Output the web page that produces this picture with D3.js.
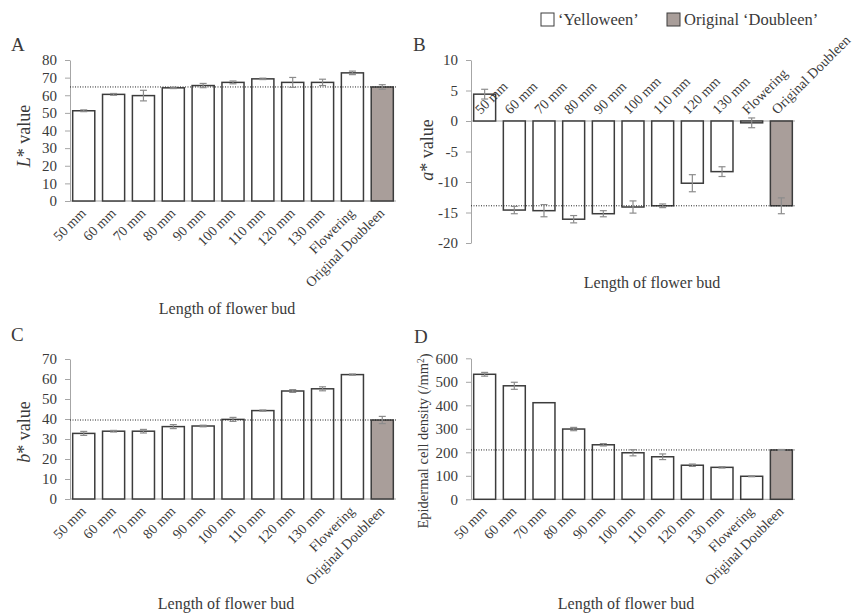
<!DOCTYPE html>
<html>
<head>
<meta charset="utf-8">
<script src="https://cdn.jsdelivr.net/npm/d3@7"></script>
<style>
  body { margin: 0; background: #fff; }
  svg, svg text { font-family: "Liberation Serif", "Times New Roman", serif; fill: #3a3a3a; }
</style>
</head>
<body>
<svg id="chart" width="859" height="614"></svg>
<script>
// categories on the x axis (same for all four panels)
const categories = ['50 mm', '60 mm', '70 mm', '80 mm', '90 mm', '100 mm', '110 mm', '120 mm', '130 mm', 'Flowering', 'Original Doubleen']

// A: L* value
const lValues = [51.2, 60.5, 59.8, 64.2, 65.5, 67.3, 69.3, 67.3, 67.3, 72.7, 64.7]
const lErrors = [0.5, 0.5, 3.0, 0.4, 1.2, 0.8, 0.4, 2.8, 1.8, 1.0, 1.3]
const lTicks = [0, 10, 20, 30, 40, 50, 60, 70, 80]

// B: a* value
const aValues = [4.4, -14.6, -14.7, -16.1, -15.2, -14.1, -13.9, -10.2, -8.3, -0.3, -13.9]
const aErrors = [0.8, 0.6, 1.0, 0.6, 0.5, 1.0, 0.3, 1.4, 0.8, 0.8, 1.3]
const aTicks = [-20, -15, -10, -5, 0, 5, 10]

// C: b* value
const bValues = [32.8, 33.9, 33.9, 36.2, 36.5, 39.8, 44.2, 54.0, 55.1, 62.2, 39.5]
const bErrors = [1.0, 0.4, 0.9, 1.0, 0.4, 1.0, 0.3, 0.7, 1.0, 0.3, 1.8]
const bTicks = [0, 10, 20, 30, 40, 50, 60, 70]

// D: epidermal cell density
const densityValues = [532, 483, 411, 299, 232, 198, 181, 145, 136, 98, 210]
const densityErrors = [8, 15, 0, 7, 5, 13, 12, 5, 3, 2, 2]
const densityTicks = [0, 100, 200, 300, 400, 500, 600]

const svg = d3.select('#chart')
const textColor = '#3a3a3a'
const axisColor = '#a6a6a6'
const barStroke = '#3c3c3c'
const greyFill = '#a99e9a'
const errColor = '#8c8c8c'

function drawPanel(cfg) {
  const g = svg.append('g')

  const x = d3.scaleBand()
    .domain(categories)
    .range(cfg.xRange)
    .paddingInner(0.26)
    .paddingOuter(0.09)

  const y = d3.scaleLinear()
    .domain(cfg.domain)
    .range(cfg.yRange)

  // y axis
  const yAxis = g.append('g')
    .attr('transform', `translate(${cfg.xRange[0]},0)`)
    .call(d3.axisLeft(y)
      .tickValues(cfg.ticks)
      .tickFormat(d => String(d))
      .tickSize(5)
      .tickSizeOuter(0)
      .tickPadding(8))
  yAxis.attr('font-family', null).attr('font-size', null)
  yAxis.select('.domain').attr('stroke', axisColor)
  yAxis.selectAll('.tick line').attr('stroke', axisColor)
  yAxis.selectAll('.tick text')
    .style('font-size', '15px')
    .attr('fill', textColor)

  // x axis line at zero
  g.append('line')
    .attr('x1', cfg.xRange[0])
    .attr('x2', cfg.xRange[1])
    .attr('y1', y(0))
    .attr('y2', y(0))
    .attr('stroke', axisColor)
    .attr('stroke-width', 1)

  // bars
  g.selectAll('.bar')
    .data(cfg.values)
    .enter()
    .append('rect')
    .attr('class', 'bar')
    .attr('x', (d, i) => x(categories[i]))
    .attr('width', x.bandwidth())
    .attr('y', d => Math.min(y(d), y(0)))
    .attr('height', d => Math.abs(y(d) - y(0)))
    .attr('fill', (d, i) => i === categories.length - 1 ? greyFill : '#fff')
    .attr('stroke', barStroke)
    .attr('stroke-width', 1.5)

  // reference dotted line at the Original Doubleen value
  const ref = cfg.values[cfg.values.length - 1]
  g.append('line')
    .attr('x1', cfg.xRange[0])
    .attr('x2', cfg.xRange[1])
    .attr('y1', y(ref))
    .attr('y2', y(ref))
    .attr('stroke', '#222')
    .attr('stroke-width', 1)
    .attr('stroke-dasharray', '1,1.5')

  // error bars
  const err = g.selectAll('.err')
    .data(cfg.values.map((v, i) => ({ v, e: cfg.errors[i], c: categories[i] })))
    .enter()
    .append('g')
    .attr('class', 'err')
    .filter(d => d.e > 0)
  const cx = d => x(d.c) + x.bandwidth() / 2
  err.append('line')
    .attr('x1', cx).attr('x2', cx)
    .attr('y1', d => y(d.v + d.e)).attr('y2', d => y(d.v - d.e))
    .attr('stroke', errColor).attr('stroke-width', 1.2)
  err.append('line')
    .attr('x1', d => cx(d) - 3.5).attr('x2', d => cx(d) + 3.5)
    .attr('y1', d => y(d.v + d.e)).attr('y2', d => y(d.v + d.e))
    .attr('stroke', errColor).attr('stroke-width', 1.2)
  err.append('line')
    .attr('x1', d => cx(d) - 3.5).attr('x2', d => cx(d) + 3.5)
    .attr('y1', d => y(d.v - d.e)).attr('y2', d => y(d.v - d.e))
    .attr('stroke', errColor).attr('stroke-width', 1.2)

  // category labels
  if (cfg.labelsAbove) {
    g.selectAll('.cat')
      .data(categories)
      .enter()
      .append('text')
      .attr('class', 'cat')
      .attr('transform', d => `translate(${x(d) + x.bandwidth() / 2 - 4},${y(0) - 6}) rotate(-45)`)
      .attr('text-anchor', 'start')
      .style('font-size', '14px')
      .text(d => d)
  } else {
    g.selectAll('.cat')
      .data(categories)
      .enter()
      .append('text')
      .attr('class', 'cat')
      .attr('transform', d => `translate(${x(d) + x.bandwidth() / 2 + 3},${y(0) + 13}) rotate(-45)`)
      .attr('text-anchor', 'end')
      .style('font-size', '14px')
      .text(d => d)
  }

  // x axis title
  g.append('text')
    .attr('x', cfg.xTitle[0])
    .attr('y', cfg.xTitle[1])
    .attr('text-anchor', 'middle')
    .style('font-size', '16px')
    .text('Length of flower bud')

  // y axis title
  const yt = g.append('text')
    .attr('transform', `translate(${cfg.yTitle[0]},${cfg.yTitle[1]}) rotate(-90)`)
    .attr('text-anchor', 'middle')
    .style('font-size', cfg.yTitleSize + 'px')
  if (cfg.italic) {
    yt.append('tspan').style('font-style', 'italic').text(cfg.italic)
    yt.append('tspan').text(cfg.yLabel)
  } else {
    yt.append('tspan').text(cfg.yLabel)
    yt.append('tspan').attr('dy', '-0.4em').style('font-size', '0.65em').text('2')
    yt.append('tspan').attr('dy', '0.4em').text(')')
  }

  // panel letter
  g.append('text')
    .attr('x', cfg.letterPos[0])
    .attr('y', cfg.letterPos[1])
    .style('font-size', '19px')
    .text(cfg.letter)
}

drawPanel({
  letter: 'A', letterPos: [11, 51],
  xRange: [70, 396], yRange: [201, 60], domain: [0, 80], ticks: lTicks,
  values: lValues, errors: lErrors,
  italic: 'L', yLabel: '* value', yTitleSize: 18, yTitle: [30, 136],
  xTitle: [227, 314]
})

drawPanel({
  letter: 'B', letterPos: [413, 51],
  xRange: [471, 795], yRange: [243, 60], domain: [-20, 10], ticks: aTicks,
  values: aValues, errors: aErrors, labelsAbove: true,
  italic: 'a', yLabel: '* value', yTitleSize: 18, yTitle: [433, 150],
  xTitle: [652, 288]
})

drawPanel({
  letter: 'C', letterPos: [11, 341],
  xRange: [70, 396], yRange: [499, 359], domain: [0, 70], ticks: bTicks,
  values: bValues, errors: bErrors,
  italic: 'b', yLabel: '* value', yTitleSize: 18, yTitle: [30, 432],
  xTitle: [226, 609]
})

drawPanel({
  letter: 'D', letterPos: [414, 343],
  xRange: [471, 795], yRange: [499.3, 358.3], domain: [0, 600], ticks: densityTicks,
  values: densityValues, errors: densityErrors,
  yLabel: 'Epidermal cell density (/mm', yTitleSize: 14.5, yTitle: [428, 441],
  xTitle: [626, 609]
})

// legend
const legendItems = [
  { label: '\u2018Yelloween\u2019', fill: '#fff', x: 541 },
  { label: 'Original \u2018Doubleen\u2019', fill: greyFill, x: 667 }
]
const legend = svg.append('g')
legend.selectAll('rect')
  .data(legendItems)
  .enter()
  .append('rect')
  .attr('x', d => d.x)
  .attr('y', 13)
  .attr('width', 13)
  .attr('height', 13)
  .attr('fill', d => d.fill)
  .attr('stroke', barStroke)
  .attr('stroke-width', 1)
legend.selectAll('text')
  .data(legendItems)
  .enter()
  .append('text')
  .attr('x', d => d.x + 17)
  .attr('y', 25)
  .style('font-size', '16.5px')
  .text(d => d.label)
</script>
</body>
</html>
